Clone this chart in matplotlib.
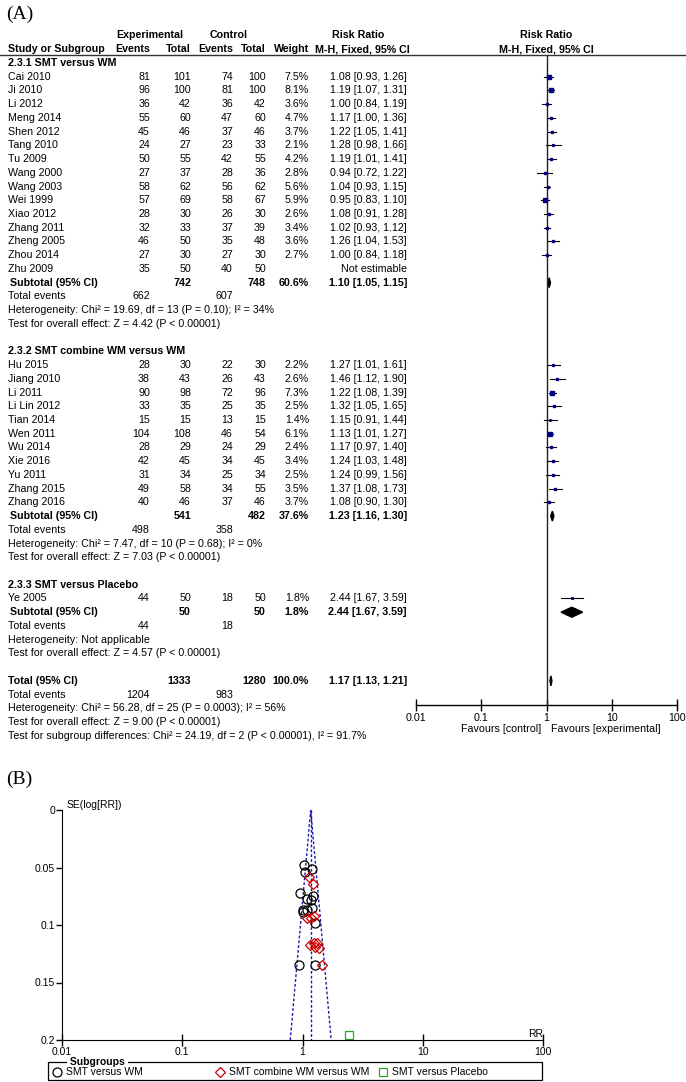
import numpy as np
import matplotlib
matplotlib.use("Agg")
import matplotlib.pyplot as plt
from matplotlib.patches import Rectangle

plt.rcParams['font.family'] = ['Liberation Sans', 'DejaVu Sans']

# ---- forest plot data ----
g1_names = ["Cai 2010", "Ji 2010", "Li 2012", "Meng 2014", "Shen 2012", "Tang 2010", "Tu 2009",
            "Wang 2000", "Wang 2003", "Wei 1999", "Xiao 2012", "Zhang 2011", "Zheng 2005",
            "Zhou 2014", "Zhu 2009"]
g1_exp_ev = [81, 96, 36, 55, 45, 24, 50, 27, 58, 57, 28, 32, 46, 27, 35]
g1_exp_n = [101, 100, 42, 60, 46, 27, 55, 37, 62, 69, 30, 33, 50, 30, 50]
g1_ctl_ev = [74, 81, 36, 47, 37, 23, 42, 28, 56, 58, 26, 37, 35, 27, 40]
g1_ctl_n = [100, 100, 42, 60, 46, 33, 55, 36, 62, 67, 30, 39, 48, 30, 50]
g1_weight = [7.5, 8.1, 3.6, 4.7, 3.7, 2.1, 4.2, 2.8, 5.6, 5.9, 2.6, 3.4, 3.6, 2.7, None]
g1_rr = [1.08, 1.19, 1.00, 1.17, 1.22, 1.28, 1.19, 0.94, 1.04, 0.95, 1.08, 1.02, 1.26, 1.00, None]
g1_lo = [0.93, 1.07, 0.84, 1.00, 1.05, 0.98, 1.01, 0.72, 0.93, 0.83, 0.91, 0.93, 1.04, 0.84, None]
g1_hi = [1.26, 1.31, 1.19, 1.36, 1.41, 1.66, 1.41, 1.22, 1.15, 1.10, 1.28, 1.12, 1.53, 1.18, None]

g2_names = ["Hu 2015", "Jiang 2010", "Li 2011", "Li Lin 2012", "Tian 2014", "Wen 2011", "Wu 2014",
            "Xie 2016", "Yu 2011", "Zhang 2015", "Zhang 2016"]
g2_exp_ev = [28, 38, 90, 33, 15, 104, 28, 42, 31, 49, 40]
g2_exp_n = [30, 43, 98, 35, 15, 108, 29, 45, 34, 58, 46]
g2_ctl_ev = [22, 26, 72, 25, 13, 46, 24, 34, 25, 34, 37]
g2_ctl_n = [30, 43, 96, 35, 15, 54, 29, 45, 34, 55, 46]
g2_weight = [2.2, 2.6, 7.3, 2.5, 1.4, 6.1, 2.4, 3.4, 2.5, 3.5, 3.7]
g2_rr = [1.27, 1.46, 1.22, 1.32, 1.15, 1.13, 1.17, 1.24, 1.24, 1.37, 1.08]
g2_lo = [1.01, 1.12, 1.08, 1.05, 0.91, 1.01, 0.97, 1.03, 0.99, 1.08, 0.90]
g2_hi = [1.61, 1.90, 1.39, 1.65, 1.44, 1.27, 1.40, 1.48, 1.56, 1.73, 1.30]

g3_names = ["Ye 2005"]
g3_exp_ev = [44]
g3_exp_n = [50]
g3_ctl_ev = [18]
g3_ctl_n = [50]
g3_weight = [1.8]
g3_rr = [2.44]
g3_lo = [1.67]
g3_hi = [3.59]

group_titles = ["2.3.1 SMT versus WM", "2.3.2 SMT combine WM versus WM", "2.3.3 SMT versus Placebo"]
sub_exp_n = [742, 541, 50]
sub_ctl_n = [748, 482, 50]
sub_weight = ["60.6%", "37.6%", "1.8%"]
sub_rr = [1.10, 1.23, 2.44]
sub_lo = [1.05, 1.16, 1.67]
sub_hi = [1.15, 1.30, 3.59]
sub_exp_ev = [662, 498, 44]
sub_ctl_ev = [607, 358, 18]
sub_het = ["Heterogeneity: Chi\u00b2 = 19.69, df = 13 (P = 0.10); I\u00b2 = 34%",
           "Heterogeneity: Chi\u00b2 = 7.47, df = 10 (P = 0.68); I\u00b2 = 0%",
           "Heterogeneity: Not applicable"]
sub_z = ["Test for overall effect: Z = 4.42 (P < 0.00001)",
         "Test for overall effect: Z = 7.03 (P < 0.00001)",
         "Test for overall effect: Z = 4.57 (P < 0.00001)"]

tot_exp_n, tot_ctl_n = 1333, 1280
tot_rr, tot_lo, tot_hi = 1.17, 1.13, 1.21
tot_exp_ev, tot_ctl_ev = 1204, 983
tot_lines = ["Heterogeneity: Chi\u00b2 = 56.28, df = 25 (P = 0.0003); I\u00b2 = 56%",
             "Test for overall effect: Z = 9.00 (P < 0.00001)",
             "Test for subgroup differences: Chi\u00b2 = 24.19, df = 2 (P < 0.00001), I\u00b2 = 91.7%"]

forest_ticks = [0.01, 0.1, 1, 10, 100]
forest_ticklabels = ["0.01", "0.1", "1", "10", "100"]

groups = [
    (g1_names, g1_exp_ev, g1_exp_n, g1_ctl_ev, g1_ctl_n, g1_weight, g1_rr, g1_lo, g1_hi),
    (g2_names, g2_exp_ev, g2_exp_n, g2_ctl_ev, g2_ctl_n, g2_weight, g2_rr, g2_lo, g2_hi),
    (g3_names, g3_exp_ev, g3_exp_n, g3_ctl_ev, g3_ctl_n, g3_weight, g3_rr, g3_lo, g3_hi),
]

W, H = 686, 1082
FS = 7.65
fig = plt.figure(figsize=(W / 100, H / 100), dpi=100)

ax0 = fig.add_axes([0, 0, 1, 1])
ax0.set_xlim(0, W)
ax0.set_ylim(H, 0)
ax0.axis('off')


def px_axes(x0, y0, x1, y1):
    return fig.add_axes([x0 / W, 1 - y1 / H, (x1 - x0) / W, (y1 - y0) / H])


# column anchors (pixels)
X_NAME, X_EEV, X_EN, X_CEV, X_CN, X_W, X_RR = 8, 150, 191, 233, 266, 309, 407
ROW0, DY = 63, 13.73


def ry(i):
    return ROW0 + DY * i


def txt(x, y, s, ha='left', bold=False, fs=FS):
    ax0.text(x, y, s, ha=ha, va='center', fontsize=fs, fontweight='bold' if bold else 'normal')


def ci_str(r, l, h):
    return f"{r:.2f} [{l:.2f}, {h:.2f}]"


ax0.text(6, 14, "(A)", fontsize=14, family='Liberation Serif', va='center')
ax0.text(6, 779, "(B)", fontsize=14, family='Liberation Serif', va='center')

# header
txt(150, 35, "Experimental", ha='center', bold=True)
txt(229, 35, "Control", ha='center', bold=True)
txt(358, 35, "Risk Ratio", ha='center', bold=True)
txt(546, 35, "Risk Ratio", ha='center', bold=True)
txt(X_NAME, 49, "Study or Subgroup", bold=True)
txt(X_EEV, 49, "Events", ha='right', bold=True)
txt(X_EN, 49, "Total", ha='right', bold=True)
txt(X_CEV, 49, "Events", ha='right', bold=True)
txt(X_CN, 49, "Total", ha='right', bold=True)
txt(X_W, 49, "Weight", ha='right', bold=True)
txt(362, 49, "M-H, Fixed, 95% CI", ha='center', bold=True)
txt(546, 49, "M-H, Fixed, 95% CI", ha='center', bold=True)
ax0.plot([0, W], [54.5, 54.5], color='#333333', lw=1)

# forest axes
axf = px_axes(416, 54.5, 677, 705)
axf.set_xscale('log')
axf.set_xlim(0.01, 100)
axf.set_ylim(705, 54.5)
axf.patch.set_alpha(0)
for s in ['top', 'left', 'right']:
    axf.spines[s].set_visible(False)
axf.spines['bottom'].set_linewidth(1)
axf.axvline(1, color='#222222', lw=1)
axf.set_xticks(forest_ticks)
axf.set_xticklabels(forest_ticklabels)
axf.minorticks_off()
axf.set_yticks([])
axf.tick_params(axis='x', direction='inout', length=9, width=1, labelsize=FS, pad=1)

row = 0
for g, grp in enumerate(groups):
    names, eev, en, cev, cn, wt, rr, lo, hi = grp
    txt(X_NAME, ry(row), group_titles[g], bold=True)
    row += 1
    for k in range(len(names)):
        y = ry(row)
        txt(X_NAME, y, names[k])
        txt(X_EEV, y, str(eev[k]), ha='right')
        txt(X_EN, y, str(en[k]), ha='right')
        txt(X_CEV, y, str(cev[k]), ha='right')
        txt(X_CN, y, str(cn[k]), ha='right')
        if rr[k] is None:
            txt(X_RR, y, "Not estimable", ha='right')
        else:
            txt(X_W, y, f"{wt[k]:.1f}%", ha='right')
            txt(X_RR, y, ci_str(rr[k], lo[k], hi[k]), ha='right')
            axf.plot([lo[k], hi[k]], [y, y], color='black', lw=0.8)
            axf.plot(rr[k], y, marker='s', ms=0.9 * np.sqrt(wt[k]), color='#000080', mec='#000080')
        row += 1
    y = ry(row)
    txt(10, y, "Subtotal (95% CI)", bold=True)
    txt(X_EN, y, str(sub_exp_n[g]), ha='right', bold=True)
    txt(X_CN, y, str(sub_ctl_n[g]), ha='right', bold=True)
    txt(X_W, y, sub_weight[g], ha='right', bold=True)
    txt(X_RR, y, ci_str(sub_rr[g], sub_lo[g], sub_hi[g]), ha='right', bold=True)
    axf.fill([sub_lo[g], sub_rr[g], sub_hi[g], sub_rr[g]], [y, y - 5, y, y + 5], color='black')
    row += 1
    txt(X_NAME, ry(row), "Total events")
    txt(X_EEV, ry(row), str(sub_exp_ev[g]), ha='right')
    txt(X_CEV, ry(row), str(sub_ctl_ev[g]), ha='right')
    row += 1
    txt(X_NAME, ry(row), sub_het[g])
    row += 1
    txt(X_NAME, ry(row), sub_z[g])
    row += 2

y = ry(row)
txt(X_NAME, y, "Total (95% CI)", bold=True)
txt(X_EN, y, str(tot_exp_n), ha='right', bold=True)
txt(X_CN, y, str(tot_ctl_n), ha='right', bold=True)
txt(X_W, y, "100.0%", ha='right', bold=True)
txt(X_RR, y, ci_str(tot_rr, tot_lo, tot_hi), ha='right', bold=True)
axf.fill([tot_lo, tot_rr, tot_hi, tot_rr], [y, y - 5, y, y + 5], color='black')
row += 1
txt(X_NAME, ry(row), "Total events")
txt(X_EEV, ry(row), str(tot_exp_ev), ha='right')
txt(X_CEV, ry(row), str(tot_ctl_ev), ha='right')
row += 1
for line in tot_lines:
    txt(X_NAME, ry(row), line)
    row += 1

txt(541, 729, "Favours [control]", ha='right')
txt(551, 729, "Favours [experimental]")

# ---- funnel plot ----
axb = px_axes(62, 810, 543, 1040)
axb.set_xscale('log')
axb.set_xlim(0.01, 100)
axb.set_ylim(0.2, 0)
axb.patch.set_alpha(0)
for s in ['top', 'right']:
    axb.spines[s].set_visible(False)
axb.set_xticks(forest_ticks)
axb.set_xticklabels(forest_ticklabels)
axb.minorticks_off()
axb.set_yticks([0, 0.05, 0.1, 0.15, 0.2])
axb.set_yticklabels(["0", "0.05", "0.1", "0.15", "0.2"])
axb.tick_params(axis='x', direction='inout', length=8, width=1, labelsize=7.5, pad=1)
axb.tick_params(axis='y', direction='out', length=4, width=1, labelsize=7.5, pad=1)

se_max = 0.2
pooled = tot_rr
axb.plot([pooled, pooled], [0, se_max], color='#1a1aaa', lw=1, ls=(0, (2, 1.5)))
axb.plot([pooled * np.exp(-1.96 * se_max), pooled, pooled * np.exp(1.96 * se_max)],
         [se_max, 0, se_max], color='#1a1aaa', lw=1, ls=(0, (2, 1.5)))

styles = [dict(marker='o', mec='black', ms=6.5),
          dict(marker='D', mec='#cc0000', ms=5.5),
          dict(marker='s', mec='#22aa22', ms=6)]
for g, grp in enumerate(groups):
    rr = np.array([v for v in grp[6] if v is not None])
    lo = np.array([v for v in grp[7] if v is not None])
    hi = np.array([v for v in grp[8] if v is not None])
    se = (np.log(hi) - np.log(lo)) / (2 * 1.96)
    axb.plot(rr, se, ls='none', mfc='none', mew=0.9, clip_on=False, **styles[g])

ax0.text(67, 805, "SE(log[RR])", fontsize=7.5, va='center')
ax0.text(528, 1034, "RR", fontsize=7.5, va='center')

# legend box
ax0.add_patch(Rectangle((48, 1062), 494, 18, fill=False, ec='black', lw=0.9))
ax0.text(67, 1062, " Subgroups ", fontsize=7.5, fontweight='bold', va='center',
         bbox=dict(fc='white', ec='none', pad=0))
leg_x = [57, 220, 383]
leg_labels = ["SMT versus WM", "SMT combine WM versus WM", "SMT versus Placebo"]
for k in range(3):
    ax0.plot(leg_x[k], 1072, ls='none', mfc='none', mew=0.9, **styles[k])
    ax0.text(leg_x[k] + 9, 1072, leg_labels[k], fontsize=7.5, va='center')

fig.savefig("out.png", dpi=100)
